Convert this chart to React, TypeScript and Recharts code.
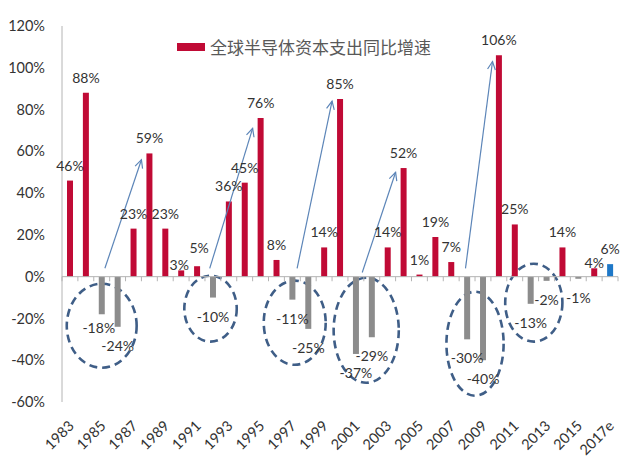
import { BarChart, Bar, XAxis, YAxis, Cell, LabelList, ReferenceLine, ReferenceArea } from 'recharts';

const years = [
  '1983', '1984', '1985', '1986', '1987', '1988', '1989', '1990', '1991', '1992',
  '1993', '1994', '1995', '1996', '1997', '1998', '1999', '2000', '2001', '2002',
  '2003', '2004', '2005', '2006', '2007', '2008', '2009', '2010', '2011', '2012',
  '2013', '2014', '2015', '2016', '2017e',
];
const growth = [
  46, 88, -18, -24, 23, 59, 23, 3, 5, -10,
  36, 45, 76, 8, -11, -25, 14, 85, -37, -29,
  14, 52, 1, 19, 7, -30, -40, 106, 25, -13,
  -2, 14, -1, 4, 6,
];
const yTicks = [-60, -40, -20, 0, 20, 40, 60, 80, 100, 120];
const legendLabel = '全球半导体资本支出同比增速';

// arrows from trough to next peak: [fromX, fromY, toX, toY] in year / % units
const arrows = [
  [1985.2, 4, 1987.5, 56],
  [1991.8, 4, 1994.5, 71],
  [1997.3, 4, 1999.5, 84],
  [2001.4, 2, 2003.5, 50],
  [2007.9, 4, 2009.6, 103],
];
// dashed rings round the downturns: [x1, x2, y1, y2]
const rings = [
  [1982.8, 1987.2, -3.4, -43.6],
  [1990.2, 1993.5, 0.5, -31.1],
  [1995.2, 1999.1, -1.9, -42.2],
  [1999.6, 2003.7, -0.5, -50.8],
  [2006.7, 2010.3, -7.2, -57.0],
  [2010.4, 2014.0, 6.2, -31.1],
];

// hand-moved labels in the source chart (px nudges)
const labelNudge: Record<string, [number, number]> = {
  '1985': [-3, -5],
  '1990': [-2, 10],
  '1991': [2, -3],
  '2016': [0, 10],
};

const data = years.map((year, i) => ({ year, pos: 1983 + i, value: growth[i] }));
const labelTicks = data.filter((_, i) => i % 2 === 0).map((d) => d.pos);
const boundaries = [...data.map((d) => d.pos - 0.5), data[data.length - 1].pos + 0.5];

const RED = '#C00A35';
const GRAY = '#8C8C8C';
const BLUE = '#1E78C8';
const TEXT = '#333333';

function barColor(d: { year: string; value: number }) {
  if (d.year.endsWith('e')) return BLUE;
  return d.value < 0 ? GRAY : RED;
}

function ValueLabel(props: any) {
  const { x, y, width, height, value, index } = props;
  const top = Math.min(y, y + height);
  const bottom = Math.max(y, y + height);
  const [dx, dy] = labelNudge[years[index]] || [0, 0];
  const ty = value < 0 ? bottom + 24 : top - 10;
  return (
    <text x={x + width / 2 + dx} y={ty + dy} textAnchor="middle" fill={TEXT} fontSize={14}>
      {value}%
    </text>
  );
}

function YearTick(props: any) {
  const { x, y, payload } = props;
  const label = years[payload.value - 1983];
  const ax = x + 1;
  const ay = y + 13;
  return (
    <text
      x={ax}
      y={ay}
      transform={`rotate(-45 ${ax} ${ay})`}
      textAnchor="end"
      dominantBaseline="central"
      fill={TEXT}
      fontSize={14.5}
    >
      {label}
    </text>
  );
}

function Arrow(props: any) {
  const { x1, y1, x2, y2 } = props;
  const ang = Math.atan2(y2 - y1, x2 - x1);
  const len = 9;
  const spread = 0.45;
  const p1 = [x2 - len * Math.cos(ang - spread), y2 - len * Math.sin(ang - spread)];
  const p2 = [x2 - len * Math.cos(ang + spread), y2 - len * Math.sin(ang + spread)];
  return (
    <g stroke="#5C85B8" strokeWidth={1.2} fill="none">
      <line x1={x1} y1={y1} x2={x2} y2={y2} />
      <polyline points={`${p1[0]},${p1[1]} ${x2},${y2} ${p2[0]},${p2[1]}`} />
    </g>
  );
}

function Ring(props: any) {
  const { x, y, width, height } = props;
  return (
    <ellipse
      cx={x + width / 2}
      cy={y + height / 2}
      rx={Math.abs(width) / 2}
      ry={Math.abs(height) / 2}
      fill="none"
      stroke="#3F5E87"
      strokeWidth={2.6}
      strokeDasharray="8 5"
    />
  );
}

export default function App() {
  return (
    <div style={{ position: 'absolute', left: 0, top: 0, width: 640, height: 464, background: '#fff', fontFamily: 'Lato, "Noto Sans", sans-serif' }}>
      <BarChart width={640} height={464} data={data} margin={{ top: 26, right: 22, left: 0, bottom: 12 }}>
        <XAxis
          xAxisId={0}
          dataKey="pos"
          type="number"
          domain={[1982.5, 2017.5]}
          allowDataOverflow
          ticks={labelTicks}
          interval={0}
          tick={<YearTick />}
          axisLine={false}
          tickLine={false}
          height={50}
        />
        <YAxis
          domain={[-60, 120]}
          ticks={yTicks}
          interval={0}
          tickFormatter={(v: number) => `${v}%`}
          tick={{ fill: TEXT, fontSize: 14.5 }}
          axisLine={{ stroke: '#B4B4B4' }}
          tickLine={false}
          tickSize={0}
          tickMargin={17}
          width={62}
        />
        <ReferenceLine y={0} stroke="#B4B4B4" />
        {boundaries.map((b) => (
          <ReferenceLine
            key={`t${b}`}
            segment={[{ x: b, y: 0 }, { x: b, y: -2.2 }]}
            stroke="#B4B4B4"
            ifOverflow="visible"
          />
        ))}
        <Bar dataKey="value" barSize={6} isAnimationActive={false}>
          {data.map((d) => (
            <Cell key={d.year} fill={barColor(d)} />
          ))}
          <LabelList dataKey="value" content={<ValueLabel />} />
        </Bar>
        {rings.map(([a, b, c, d], i) => (
          <ReferenceArea key={`r${i}`} x1={a} x2={b} y1={c} y2={d} ifOverflow="visible" shape={<Ring />} />
        ))}
        {arrows.map(([a, b, c, d], i) => (
          <ReferenceLine
            key={`a${i}`}
            segment={[{ x: a, y: b }, { x: c, y: d }]}
            ifOverflow="visible"
            shape={<Arrow />}
          />
        ))}
      </BarChart>
      <div
        style={{
          position: 'absolute',
          left: 177,
          top: 34,
          display: 'flex',
          alignItems: 'center',
          gap: 5,
          fontFamily: '"Noto Sans CJK SC", sans-serif',
          fontSize: 17,
          color: '#595959',
          whiteSpace: 'nowrap',
        }}
      >
        <span style={{ display: 'inline-block', width: 28, height: 8, background: RED }} />
        <span>{legendLabel}</span>
      </div>
    </div>
  );
}
